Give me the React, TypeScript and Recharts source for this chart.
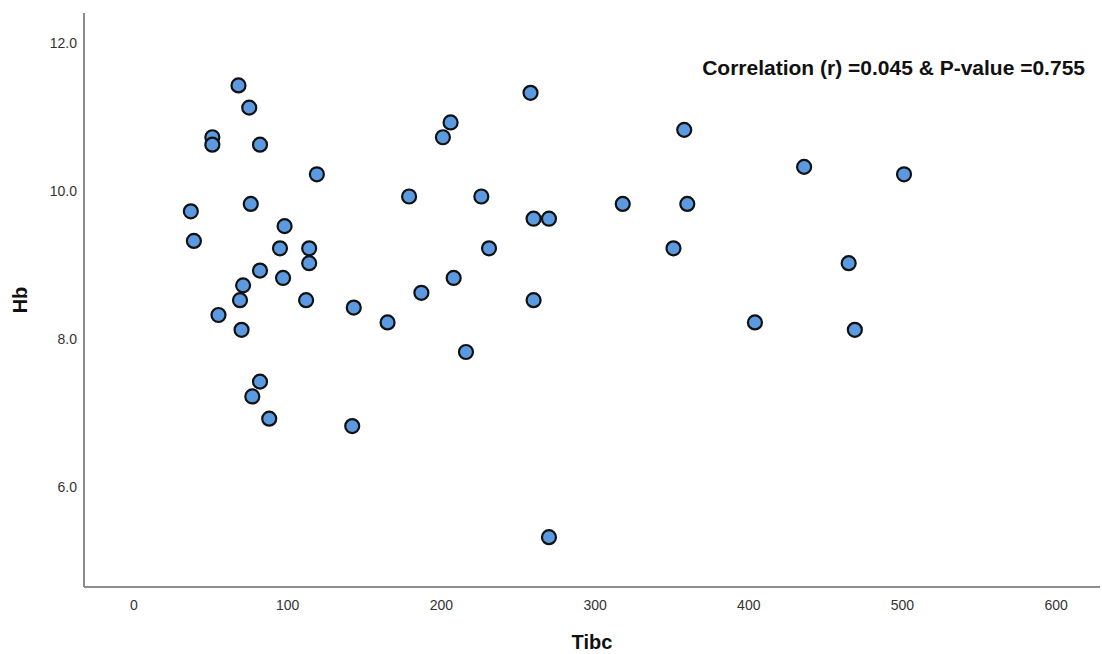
import React from 'react';
import { ScatterChart, Scatter, XAxis, YAxis, Label } from 'recharts';

// Tibc vs Hb, one entry per patient
const tibcValues = [
  68, 75, 51, 51, 82, 119, 37, 76, 39, 98, 95, 114, 114, 82, 97, 71, 69, 112,
  55, 70, 82, 77, 88, 142, 143, 206, 201, 179, 226, 260, 270, 231, 165, 187,
  208, 260, 216, 258, 270, 358, 436, 501, 318, 360, 351, 465, 404, 469,
];
const hbValues = [
  11.4, 11.1, 10.7, 10.6, 10.6, 10.2, 9.7, 9.8, 9.3, 9.5, 9.2, 9.2, 9.0, 8.9, 8.8, 8.7, 8.5, 8.5,
  8.3, 8.1, 7.4, 7.2, 6.9, 6.8, 8.4, 10.9, 10.7, 9.9, 9.9, 9.6, 9.6, 9.2, 8.2, 8.6,
  8.8, 8.5, 7.8, 11.3, 5.3, 10.8, 10.3, 10.2, 9.8, 9.8, 9.2, 9.0, 8.2, 8.1,
];
const xTicks = [0, 100, 200, 300, 400, 500, 600];
const yTicks = [6, 8, 10, 12];
const annotation = 'Correlation (r) =0.045 & P-value =0.755';

const points = tibcValues.map((tibc, i) => ({ tibc, hb: hbValues[i] }));

const FONT = '"Liberation Sans", Arial, sans-serif';
const AXIS_GREY = '#8c8c8c';

const Dot = (props: any) => (
  <circle cx={props.cx} cy={props.cy} r={7} fill="#5b9ae0" stroke="#111" strokeWidth={2.2} />
);

// y labels sit a touch below their value position
const YTick = ({ x, y, payload }: any) => (
  <text x={x} y={y + 2} dy="0.355em" textAnchor="end" fontFamily={FONT} fontSize={14} fill="#333">
    {Number(payload.value).toFixed(1)}
  </text>
);

const YTitle = ({ viewBox }: any) => (
  <text
    x={20}
    y={viewBox.y + viewBox.height / 2}
    transform={`rotate(-90, 20, ${viewBox.y + viewBox.height / 2})`}
    textAnchor="middle"
    dominantBaseline="central"
    fontFamily={FONT}
    fontWeight="bold"
    fontSize={20}
    fill="#111"
  >
    Hb
  </text>
);

const XTitle = ({ viewBox }: any) => (
  <text
    x={viewBox.x + viewBox.width / 2}
    y={649}
    textAnchor="middle"
    fontFamily={FONT}
    fontWeight="bold"
    fontSize={20}
    fill="#111"
  >
    Tibc
  </text>
);

const tickStyle = { fontFamily: FONT, fontSize: 14, fill: '#333' };

export default function App() {
  return (
    <div style={{ position: 'absolute', left: 0, top: 0, width: 1102, height: 654, background: '#fff' }}>
      <ScatterChart width={1102} height={654} margin={{ top: 13, right: 2, bottom: 0, left: 0 }}>
        <XAxis
          type="number"
          dataKey="tibc"
          domain={[-32.5, 628.5]}
          ticks={xTicks}
          allowDataOverflow
          height={67}
          tickLine={false}
          tickMargin={7}
          axisLine={{ stroke: AXIS_GREY, strokeWidth: 2 }}
          tick={tickStyle}
        >
          <Label content={<XTitle />} />
        </XAxis>
        <YAxis
          type="number"
          dataKey="hb"
          domain={[4.627, 12.378]}
          ticks={yTicks}
          allowDataOverflow
          width={84}
          tickLine={false}
          tickMargin={1}
          axisLine={{ stroke: AXIS_GREY, strokeWidth: 2 }}
          tick={<YTick />}
        >
          <Label content={<YTitle />} />
        </YAxis>
        <Scatter data={points} shape={<Dot />} isAnimationActive={false} />
      </ScatterChart>
      <div
        style={{
          position: 'absolute',
          right: 1102 - 1085,
          top: 56,
          fontFamily: FONT,
          fontWeight: 'bold',
          fontSize: 21,
          color: '#111',
          whiteSpace: 'nowrap',
        }}
      >
        {annotation}
      </div>
    </div>
  );
}
